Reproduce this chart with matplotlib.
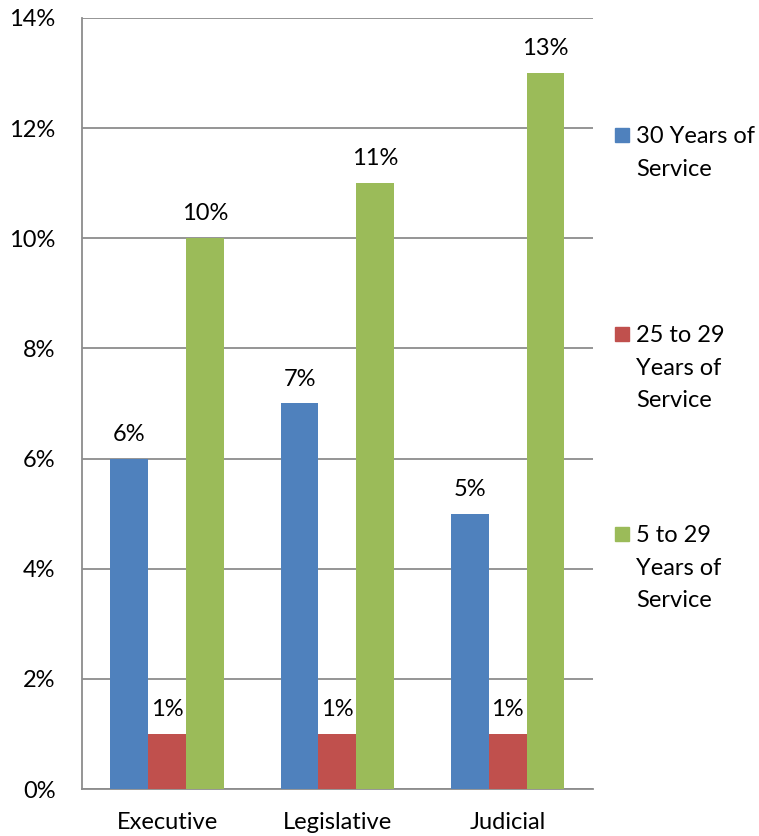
import matplotlib.pyplot as plt
from matplotlib.patches import Rectangle
import numpy as np

plt.rcParams['font.family'] = ['Lato', 'DejaVu Sans']

# data
branches = ['Executive', 'Legislative', 'Judicial']
series = ['30 Years of\nService', '25 to 29\nYears of\nService', '5 to 29\nYears of\nService']
yrs_30 = [6, 7, 5]
yrs_25_29 = [1, 1, 1]
yrs_5_29 = [10, 11, 13]
colors = ['#4F81BD', '#C0504D', '#9BBB59']
yticks = [0, 2, 4, 6, 8, 10, 12, 14]

FS = 17

fig = plt.figure(figsize=(7.59, 8.36), dpi=100)
ax = fig.add_axes([0.108, 0.0562, 0.673, 0.9223])

x = np.arange(len(branches))
w = 0.222
for i, vals in enumerate([yrs_30, yrs_25_29, yrs_5_29]):
    bars = ax.bar(x + (i - 1) * w, vals, width=w, color=colors[i], zorder=3)
    for b, v in zip(bars, vals):
        ax.annotate(f'{v}%', (b.get_x() + b.get_width() / 2, v),
                    xytext=(0, 10), textcoords='offset points',
                    ha='center', va='bottom', fontsize=FS)

ax.set_xlim(-0.5, 2.5)
ax.set_ylim(0, 14)
ax.set_yticks(yticks)
ax.set_yticklabels([f'{t}%' for t in yticks])
ax.set_xticks(x)
ax.set_xticklabels(branches)
ax.tick_params(axis='y', length=0, pad=19, labelsize=FS)
ax.tick_params(axis='x', length=0, pad=16.5, labelsize=FS)
ax.grid(axis='y', color='#8C8C8C', linewidth=1.3, zorder=0)
for s in ['top', 'right']:
    ax.spines[s].set_visible(False)
for s in ['left', 'bottom']:
    ax.spines[s].set_color('#8C8C8C')
    ax.spines[s].set_linewidth(1.3)

# legend drawn by hand, square next to first text line
leg_y = [135, 334, 534]
for lab, c, yp in zip(series, colors, leg_y):
    fy = 1 - yp / 836
    fig.patches.append(Rectangle((615 / 759, fy - 7 / 836), 14 / 759, 14 / 836,
                                 transform=fig.transFigure, color=c))
    fig.text(636 / 759, fy + 9 / 836, lab, ha='left', va='top', fontsize=FS,
             linespacing=1.68, transform=fig.transFigure)

fig.savefig('out.png', dpi=100)
